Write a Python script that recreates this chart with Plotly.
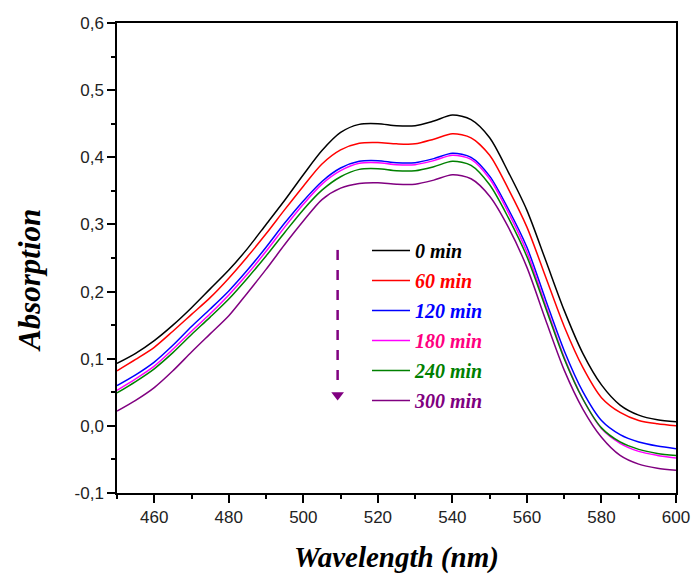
import plotly.graph_objects as go

wavelength = [450, 455, 460, 465, 470, 475, 480, 485, 490, 495, 500, 505, 510, 515, 520,
              525, 530, 535, 540, 545, 550, 555, 560, 565, 570, 575, 580, 585, 590, 595, 600]

abs_0min = [0.093, 0.108, 0.127, 0.150, 0.176, 0.204, 0.232, 0.264, 0.300, 0.336, 0.374,
            0.410, 0.437, 0.449, 0.450, 0.447, 0.447, 0.454, 0.463, 0.456, 0.429, 0.378,
            0.321, 0.247, 0.172, 0.108, 0.061, 0.031, 0.016, 0.009, 0.006]
abs_60min = [0.082, 0.099, 0.117, 0.141, 0.166, 0.191, 0.220, 0.252, 0.286, 0.322, 0.357,
             0.390, 0.411, 0.421, 0.422, 0.420, 0.420, 0.427, 0.435, 0.429, 0.403, 0.353,
             0.296, 0.222, 0.148, 0.087, 0.042, 0.020, 0.008, 0.003, 0.000]
abs_120min = [0.060, 0.076, 0.095, 0.120, 0.148, 0.174, 0.201, 0.232, 0.266, 0.302, 0.335,
              0.364, 0.384, 0.394, 0.395, 0.392, 0.392, 0.398, 0.406, 0.400, 0.372, 0.323,
              0.266, 0.188, 0.112, 0.051, 0.008, -0.013, -0.024, -0.030, -0.034]
abs_180min = [0.053, 0.070, 0.089, 0.114, 0.141, 0.167, 0.195, 0.226, 0.260, 0.296, 0.330,
              0.360, 0.380, 0.391, 0.392, 0.389, 0.389, 0.395, 0.403, 0.397, 0.368, 0.318,
              0.259, 0.180, 0.102, 0.040, -0.004, -0.026, -0.038, -0.044, -0.048]
abs_240min = [0.049, 0.066, 0.085, 0.109, 0.136, 0.162, 0.189, 0.220, 0.253, 0.288, 0.322,
              0.351, 0.371, 0.382, 0.383, 0.380, 0.380, 0.386, 0.394, 0.388, 0.359, 0.310,
              0.252, 0.176, 0.100, 0.040, -0.003, -0.024, -0.035, -0.041, -0.044]
abs_300min = [0.022, 0.038, 0.057, 0.082, 0.110, 0.137, 0.164, 0.198, 0.233, 0.270, 0.305,
              0.337, 0.354, 0.361, 0.362, 0.360, 0.360, 0.366, 0.374, 0.368, 0.342, 0.296,
              0.236, 0.158, 0.083, 0.025, -0.017, -0.044, -0.057, -0.063, -0.066]

series_names = ["0 min", "60 min", "120 min", "180 min", "240 min", "300 min"]
series_values = [abs_0min, abs_60min, abs_120min, abs_180min, abs_240min, abs_300min]
line_colors = ["#000000", "#FF0000", "#0000FF", "#FF00FF", "#008000", "#800080"]
text_colors = ["#000000", "#FF0000", "#0000FF", "#FF0080", "#008000", "#800080"]

y_tickvals = [-0.1, 0.0, 0.1, 0.2, 0.3, 0.4, 0.5, 0.6]
y_ticktext = ["-0,1", "0,0", "0,1", "0,2", "0,3", "0,4", "0,5", "0,6"]
x_tickvals = [460, 480, 500, 520, 540, 560, 580, 600]
x_ticktext = ["460", "480", "500", "520", "540", "560", "580", "600"]

# arrow (trend indicator) in data coordinates
arrow_x = 509.2
arrow_y_top = 0.262
arrow_y_bottom = 0.060
arrow_head_y = 0.046

fig = go.Figure()
for i, (name, vals) in enumerate(zip(series_names, series_values)):
    fig.add_trace(go.Scatter(
        x=wavelength, y=vals, mode="lines",
        line=dict(color=line_colors[i], width=1.5, shape="spline", smoothing=0.8),
        name=f"<span style='color:{text_colors[i]}'>{name}</span>",
        legendgroup=f"g{i}",
    ))

fig.add_trace(go.Scatter(
    x=[arrow_x, arrow_x], y=[arrow_y_top, arrow_y_bottom], mode="lines",
    line=dict(color="#800080", width=2.5, dash="10px,10px"),
    showlegend=False, hoverinfo="skip"))
fig.add_trace(go.Scatter(
    x=[arrow_x], y=[arrow_head_y], mode="markers",
    marker=dict(symbol="triangle-down", size=11, color="#800080"),
    showlegend=False, hoverinfo="skip"))

W, H = 691, 574
ml, mr, mt, mb = 117, 15, 23, 81
pw, ph = W - ml - mr, H - mt - mb

axis_common = dict(
    showgrid=False, zeroline=False, showline=True, linecolor="black", linewidth=1.5,
    mirror=True, ticks="outside", ticklen=8, tickwidth=1.5, tickcolor="black",
    automargin=False,
    tickfont=dict(family="Liberation Sans, Arial", size=17, color="#222222"),
)

fig.update_layout(
    width=W, height=H,
    margin=dict(l=ml, r=mr, t=mt, b=mb, pad=0, autoexpand=False),
    paper_bgcolor="white", plot_bgcolor="white",
    xaxis=dict(range=[450, 600], tickvals=x_tickvals, ticktext=x_ticktext,
               minor=dict(tick0=450, dtick=10, ticks="outside", ticklen=4,
                          tickwidth=1.5, tickcolor="black"),
               **axis_common),
    yaxis=dict(range=[-0.1, 0.6], tickvals=y_tickvals, ticktext=y_ticktext,
               minor=dict(tick0=-0.1, dtick=0.05, ticks="outside", ticklen=4,
                          tickwidth=1.5, tickcolor="black"),
               **axis_common),
    legend=dict(
        x=(367 - ml) / pw, y=(493 - 231) / ph, xanchor="left", yanchor="top",
        bgcolor="rgba(0,0,0,0)", borderwidth=0,
        font=dict(family="Liberation Serif, DejaVu Serif", size=20, style="italic",
                  weight="bold"),
        tracegroupgap=1, itemwidth=38, traceorder="grouped",
    ),
    showlegend=True,
)

fig.add_annotation(text="Wavelength (nm)", xref="paper", yref="paper",
                   x=0.5, y=-(557 - 493) / ph, xanchor="center", yanchor="middle",
                   showarrow=False,
                   font=dict(family="Liberation Serif, DejaVu Serif", size=29,
                             style="italic", weight="bold", color="black"))
fig.add_annotation(text="Absorption", xref="paper", yref="paper",
                   x=(29 - ml) / pw, y=(493 - 281) / ph, xanchor="center",
                   yanchor="middle", textangle=-90, showarrow=False,
                   font=dict(family="Liberation Serif, DejaVu Serif", size=31,
                             style="italic", weight="bold", color="black"))

fig.write_html("out.html")
